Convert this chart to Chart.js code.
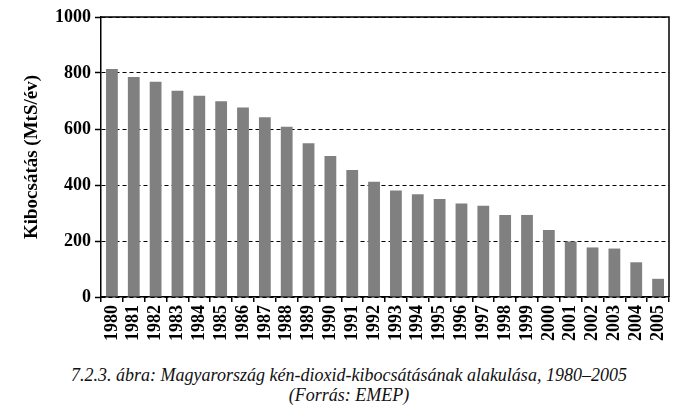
<!DOCTYPE html>
<html>
<head>
<meta charset="utf-8">
<script src="https://cdn.jsdelivr.net/npm/chart.js@4.4.1/dist/chart.umd.min.js"></script>
<style>
  html, body { margin: 0; padding: 0; background: #fff; width: 686px; height: 409px; overflow: hidden; }
  #wrap { position: absolute; left: 0; top: 0; width: 686px; height: 350px; }
  #caption { position: absolute; left: 0; top: 365px; width: 698px; text-align: center;
    font-family: "Liberation Serif", "DejaVu Serif", serif; font-style: italic; font-size: 18px; line-height: 20px; color: #111; }
</style>
</head>
<body>
<div id="wrap"><canvas id="c" width="686" height="350"></canvas></div>
<div id="caption">7.2.3. ábra: Magyarország kén-dioxid-kibocsátásának alakulása, 1980–2005<br>(Forrás: EMEP)</div>
<script>
const years = ["1980","1981","1982","1983","1984","1985","1986","1987","1988","1989","1990","1991","1992","1993","1994","1995","1996","1997","1998","1999","2000","2001","2002","2003","2004","2005"];
const emissions = [814, 786, 769, 737, 719, 699, 677, 642, 608, 549, 504, 454, 412, 380, 367, 350, 334, 326, 293, 293, 239, 198, 177, 173, 124, 65];
const yTicks = [0, 200, 400, 600, 800, 1000];
const yTitle = "Kibocsátás (MtS/év)";

const frame = {
  id: 'frame',
  afterDraw(chart) {
    const a = chart.chartArea, ctx = chart.ctx;
    ctx.save();
    ctx.strokeStyle = '#000';
    ctx.lineWidth = 1.5;
    ctx.beginPath();
    ctx.moveTo(a.left, a.top);
    ctx.lineTo(a.right, a.top);
    ctx.lineTo(a.right, a.bottom);
    ctx.stroke();
    ctx.restore();
  }
};

const serif = "'Liberation Serif', 'DejaVu Serif', serif";

new Chart(document.getElementById('c'), {
  type: 'bar',
  data: {
    labels: years,
    datasets: [{
      data: emissions,
      backgroundColor: '#808080',
      borderWidth: 0,
      barPercentage: 0.54,
      categoryPercentage: 1.0
    }]
  },
  options: {
    responsive: false,
    animation: false,
    devicePixelRatio: 1,
    layout: { padding: { left: 0, right: 17, top: 17, bottom: 0 } },
    plugins: { legend: { display: false }, tooltip: { enabled: false } },
    scales: {
      x: {
        offset: true,
        grid: { offset: true, drawOnChartArea: false, drawTicks: true, tickLength: 5, color: '#000', lineWidth: 1.5 },
        border: { display: true, color: '#000', width: 1.5 },
        ticks: { color: '#000', font: { family: serif, size: 18, weight: 'bold' }, minRotation: 90, maxRotation: 90, padding: 3, autoSkip: false },
        afterFit(s) { s.height = 53; }
      },
      y: {
        min: 0, max: 1000,
        afterBuildTicks(s) { s.ticks = yTicks.map(v => ({ value: v })); },
        grid: { color: '#000', lineWidth: 1, drawTicks: true, tickLength: 6, tickColor: '#000', tickWidth: 1.5 },
        border: { display: true, color: '#000', width: 1.5, dash: [4, 3] },
        ticks: { color: '#000', font: { family: serif, size: 18, weight: 'bold' }, padding: 4, callback: (v) => String(v) },
        title: { display: true, text: yTitle, color: '#000', font: { family: serif, size: 19, weight: 'bold' }, padding: { top: 21, bottom: 0 } },
        afterFit(s) { s.width = 101; }
      }
    }
  },
  plugins: [frame]
});
</script>
</body>
</html>
